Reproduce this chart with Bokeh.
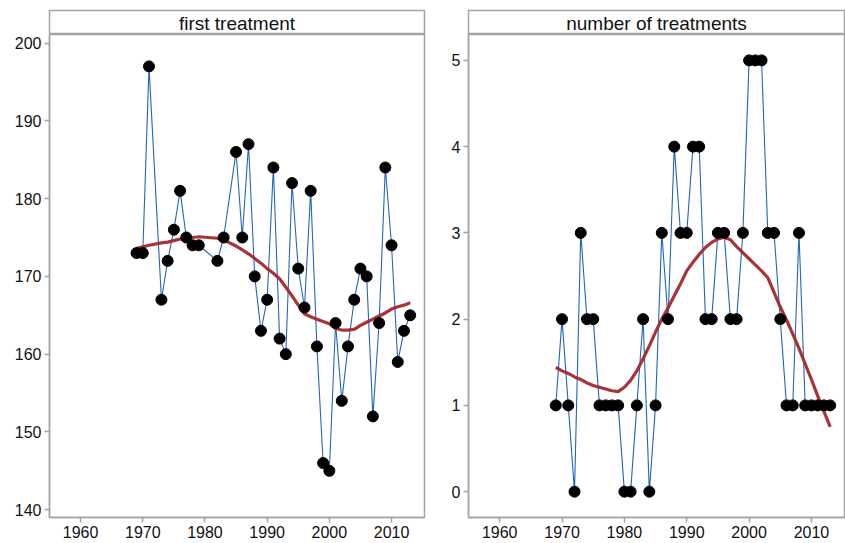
from bokeh.plotting import figure
from bokeh.layouts import row, column
from bokeh.models import Range1d, FixedTicker, ColumnDataSource
from bokeh.core.properties import value
from bokeh.embed import file_html
from bokeh.resources import INLINE

# ---- data ----
years_first = [1969, 1970, 1971, 1973, 1974, 1975, 1976, 1977, 1978, 1979,
               1982, 1983, 1985, 1986, 1987, 1988, 1989, 1990, 1991, 1992,
               1993, 1994, 1995, 1996, 1997, 1998, 1999, 2000, 2001, 2002,
               2003, 2004, 2005, 2006, 2007, 2008, 2009, 2010, 2011, 2012, 2013]
first_treatment = [173, 173, 197, 167, 172, 176, 181, 175, 174, 174,
                   172, 175, 186, 175, 187, 170, 163, 167, 184, 162,
                   160, 182, 171, 166, 181, 161, 146, 145, 164, 154,
                   161, 167, 171, 170, 152, 164, 184, 174, 159, 163, 165]
smooth_first = [173.6, 173.8, 174.0, 174.3, 174.4, 174.6, 174.8, 174.9, 175.0, 175.1,
                174.9, 174.7, 173.9, 173.4, 172.9, 172.3, 171.7, 171.0, 170.4, 169.7,
                168.6, 167.5, 166.3, 165.2, 164.8, 164.5, 164.2, 163.9, 163.3, 163.1,
                163.1, 163.2, 163.7, 164.1, 164.5, 164.9, 165.3, 165.8, 166.1, 166.3, 166.6]

years_num = list(range(1969, 2014))
num_treatments = [1, 2, 1, 0, 3, 2, 2, 1, 1, 1,
                  1, 0, 0, 1, 2, 0, 1, 3, 2, 4,
                  3, 3, 4, 4, 2, 2, 3, 3, 2, 2,
                  3, 5, 5, 5, 3, 3, 2, 1, 1, 3,
                  1, 1, 1, 1, 1]
smooth_num = [1.44, 1.40, 1.37, 1.33, 1.30, 1.26, 1.23, 1.21, 1.19, 1.17,
              1.16, 1.21, 1.29, 1.40, 1.54, 1.69, 1.85, 2.00, 2.13, 2.27,
              2.41, 2.56, 2.66, 2.75, 2.83, 2.89, 2.93, 2.95, 2.92, 2.84,
              2.77, 2.70, 2.63, 2.56, 2.48, 2.31, 2.14, 1.99, 1.83, 1.66,
              1.48, 1.30, 1.11, 0.93, 0.75]

x_ticks = [1960, 1970, 1980, 1990, 2000, 2010]
first_ticks = [140, 150, 160, 170, 180, 190, 200]
num_ticks = [0, 1, 2, 3, 4, 5]

FONT = "Liberation Sans"
FRAME = "#a3a3a3"
BLUE = "#2266bb"
RED = "#a3282b"


def panel(title, xs, ys, sm, yr, yticks, width, left, right):
    head = figure(width=width, height=34, x_range=Range1d(0, 1), y_range=Range1d(0, 1),
                  output_backend="svg", toolbar_location=None,
                  min_border_left=left, min_border_right=right,
                  min_border_top=10, min_border_bottom=0)
    head.axis.visible = False
    head.grid.visible = False
    head.outline_line_color = FRAME
    head.outline_line_width = 1.5
    head.text(x=[0.5], y=[0.45], text=[title], text_align="center", text_baseline="middle",
              text_font=value(FONT), text_font_size="19px", text_color="#111111")

    p = figure(width=width, height=509, x_range=Range1d(1955, 2015.3), y_range=Range1d(*yr),
               output_backend="svg", toolbar_location=None,
               min_border_left=left, min_border_right=right,
               min_border_top=0, min_border_bottom=26)
    p.grid.visible = False
    p.outline_line_color = FRAME
    p.outline_line_width = 1.5
    for ax in (p.xaxis[0], p.yaxis[0]):
        ax.axis_line_color = FRAME
        ax.axis_line_width = 1.5
        ax.major_tick_line_color = FRAME
        ax.major_tick_line_width = 1.5
        ax.major_tick_out = 5
        ax.major_tick_in = 0
        ax.minor_tick_line_color = None
        ax.major_label_text_font = FONT
        ax.major_label_text_font_size = "16px"
        ax.major_label_text_color = "#111111"
        ax.major_label_standoff = 3
    p.xaxis.ticker = FixedTicker(ticks=x_ticks)
    p.yaxis.ticker = FixedTicker(ticks=yticks)

    src = ColumnDataSource(dict(x=xs, y=ys))
    p.line("x", "y", source=src, line_color=BLUE, line_width=1.1)
    p.line(x=xs, y=sm, line_color=RED, line_width=3.2, line_alpha=0.95)
    p.scatter("x", "y", source=src, size=11, fill_color="black", line_color="black")
    return column(head, p, spacing=0)


left = panel("first treatment", years_first, first_treatment, smooth_first,
             (139.0, 201.1), first_ticks, 430, 49, 6)
right = panel("number of treatments", years_num, num_treatments, smooth_num,
              (-0.3, 5.3), num_ticks, 415, 38, 1)

layout = row(left, right, spacing=0)
open("out.html", "w").write(file_html(layout, INLINE))
